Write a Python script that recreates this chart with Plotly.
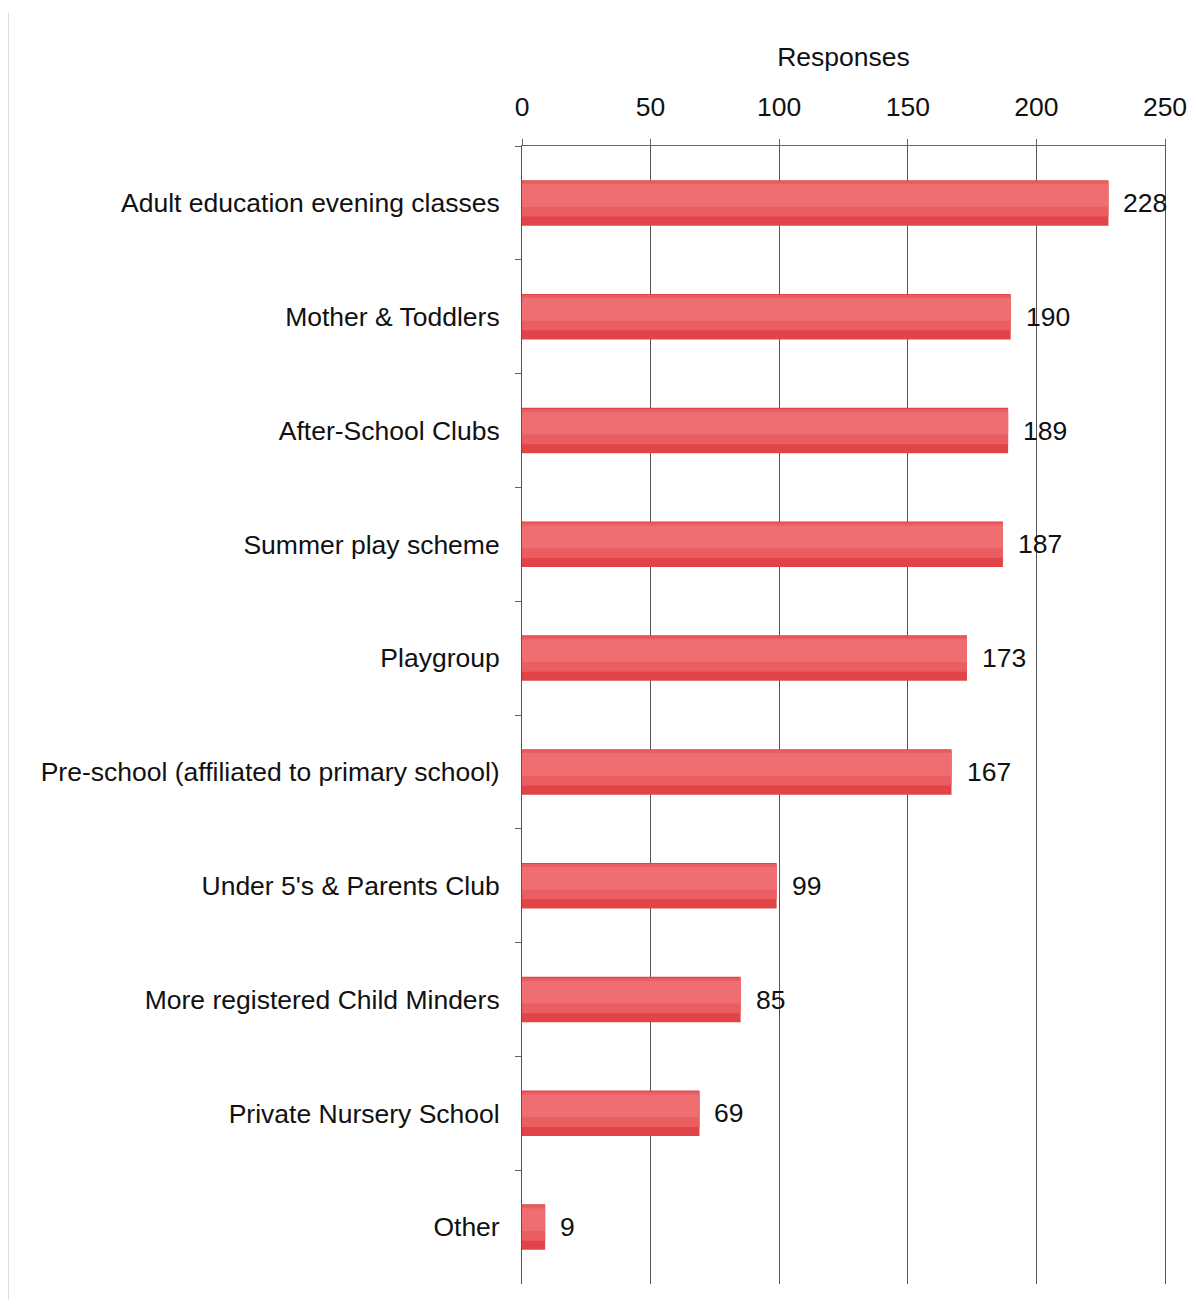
import plotly.graph_objects as go

categories = [
    "Adult education evening classes",
    "Mother & Toddlers",
    "After-School Clubs",
    "Summer play scheme",
    "Playgroup",
    "Pre-school (affiliated to primary school)",
    "Under 5's & Parents Club",
    "More registered Child Minders",
    "Private Nursery School",
    "Other",
]
responses = [228, 190, 189, 187, 173, 167, 99, 85, 69, 9]
x_ticks = [0, 50, 100, 150, 200, 250]

# page body has an 8px margin, so the figure is shrunk accordingly
W, H = 1180, 1292
L, R, T, B = 514, 23, 138, 16
font_family = "Liberation Sans, Arial, Helvetica, sans-serif"
FS = 26.5

fig = go.Figure()
# base bar (darker red)
fig.add_trace(go.Bar(
    y=categories, x=responses, orientation="h",
    width=0.4, offset=-0.2, marker=dict(color="#E04448", line=dict(width=0)),
    hoverinfo="x+y",
))
# lighter layers toward the top of each bar to mimic the gradient
fig.add_trace(go.Bar(
    y=categories, x=responses, orientation="h",
    width=0.31, offset=-0.19,
    marker=dict(color="#EA5D61", line=dict(width=0)),
    hoverinfo="skip",
))
fig.add_trace(go.Bar(
    y=categories, x=responses, orientation="h",
    width=0.2, offset=-0.165,
    marker=dict(color="#EF6E71", line=dict(width=0)),
    hoverinfo="skip",
))

for cat, v in zip(categories, responses):
    fig.add_annotation(x=v, y=cat, text=str(v), showarrow=False,
                       xanchor="left", yanchor="middle", xshift=13,
                       font=dict(size=FS, color="#111", family=font_family))

fig.update_layout(
    width=W, height=H,
    margin=dict(l=L, r=R, t=T, b=B, autoexpand=False),
    paper_bgcolor="white", plot_bgcolor="white",
    barmode="overlay", showlegend=False,
    font=dict(family=font_family, size=FS, color="#111"),
    xaxis=dict(
        side="top", range=[0, 250], tickvals=x_ticks,
        automargin=False,
        showgrid=True, gridcolor="#555", gridwidth=1,
        showline=True, linecolor="#666", linewidth=1, mirror=False,
        ticks="outside", ticklen=6, tickcolor="#666",
        tickfont=dict(size=FS, color="#111"),
        ticklabelstandoff=12,
        zeroline=False,
        title=dict(text="Responses", font=dict(size=FS, color="#111"), standoff=18),
    ),
    yaxis=dict(
        autorange="reversed", showgrid=False, automargin=False,
        showline=True, linecolor="#555", linewidth=1, mirror=True,
        ticks="outside", tickson="boundaries", ticklen=6, tickcolor="#666",
        tickfont=dict(size=FS, color="#111"),
        ticklabelstandoff=16,
    ),
)
# faint page border line on the left
fig.add_shape(type="line", xref="paper", yref="paper",
              x0=(0 - L) / (W - L - R), x1=(0 - L) / (W - L - R),
              y0=-B / (H - T - B), y1=(H - B - 5) / (H - T - B),
              line=dict(color="#BBBBBB", width=1))

fig.write_html("out.html")
